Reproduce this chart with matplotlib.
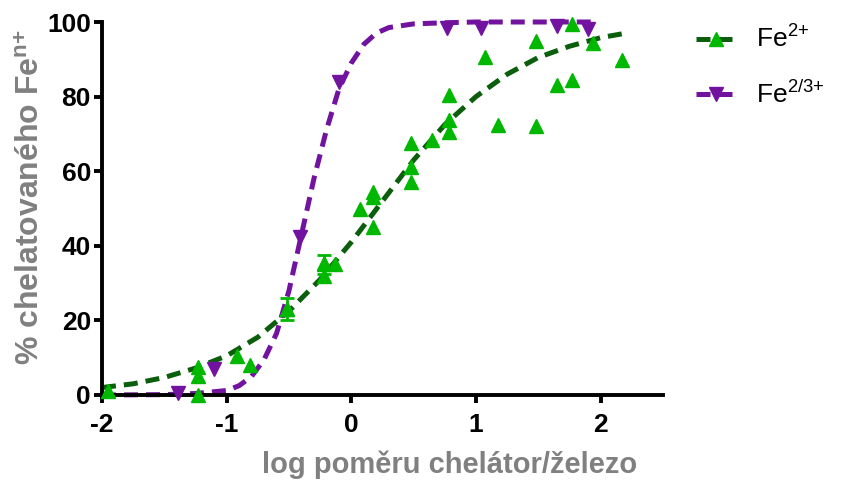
import matplotlib

matplotlib.use("Agg")
import matplotlib.pyplot as plt

plt.rcParams["font.family"] = ["Liberation Sans", "DejaVu Sans"]
plt.rcParams["mathtext.fontset"] = "custom"
plt.rcParams["mathtext.rm"] = "Liberation Sans"
plt.rcParams["mathtext.bf"] = "Liberation Sans:bold"
plt.rcParams["mathtext.default"] = "regular"
plt.rcParams["axes.unicode_minus"] = False

# Fe2+ -- measured points (log ratio, % chelated)
FE2_X = [-1.95, -1.23, -1.23, -1.23, -0.92, -0.81, -0.52, -0.22, -0.22, -0.13,
         0.07, 0.17, 0.17, 0.17, 0.48, 0.48, 0.48, 0.65, 0.78, 0.78, 0.78,
         1.07, 1.18, 1.48, 1.48, 1.65, 1.77, 1.77, 1.94, 2.17]
FE2_Y = [1.0, 7.5, 5.0, 0.0, 10.5, 8.0, 23.0, 35.5, 32.0, 35.0,
         50.0, 54.5, 53.0, 45.0, 67.5, 61.0, 57.0, 68.4, 80.4, 73.7, 70.5,
         90.6, 72.4, 95.0, 72.0, 83.0, 84.5, 99.5, 94.4, 89.8]
# mean +/- SD points with visible caps
FE2_ERR_X = [-0.52, -0.22]
FE2_ERR_Y = [23.0, 35.0]
FE2_ERR = [3.0, 2.5]
# Fe2+ fitted curve
FE2_FIT_X = [-2.0, -1.75, -1.5, -1.25, -1.0, -0.75, -0.5, -0.25, 0.0, 0.25,
             0.5, 0.75, 1.0, 1.25, 1.5, 1.75, 2.0, 2.2]
FE2_FIT_Y = [2.0, 3.0, 4.7, 7.2, 10.5, 15.5, 22.5, 31.0, 41.0, 52.0,
             63.0, 72.5, 80.0, 86.0, 90.5, 93.5, 95.8, 97.0]

# Fe2/3+ -- measured points
FE23_X = [-1.39, -1.1, -0.41, -0.1, 0.77, 1.04, 1.65, 1.9]
FE23_Y = [0.5, 7.0, 42.4, 84.0, 98.5, 98.5, 99.0, 98.0]
# Fe2/3+ fitted curve
FE23_FIT_X = [-2.0, -1.5, -1.25, -1.0, -0.9, -0.8, -0.7, -0.6, -0.5, -0.4,
              -0.3, -0.2, -0.1, 0.0, 0.1, 0.2, 0.3, 0.5, 0.75, 1.0, 1.5, 1.93]
FE23_FIT_Y = [0.0, 0.1, 0.4, 1.2, 2.5, 5.0, 9.5, 16.5, 28.0, 43.0,
              58.0, 71.0, 82.0, 89.0, 94.0, 97.0, 98.5, 99.5, 99.8, 100.0, 100.0, 100.0]

X_TICKS = [-2, -1, 0, 1, 2]
Y_TICKS = [0, 20, 40, 60, 80, 100]

GREEN_PT = "#00B800"
GREEN_LN = "#0B5E0B"
PURPLE = "#72139F"
DASH = (0, (2.8, 1.6))


def main() -> None:
    fig = plt.figure(figsize=(8.42, 4.84), dpi=100)
    ax = fig.add_axes([102 / 842, 89 / 484, 561 / 842, 373 / 484])

    ax.plot(FE2_FIT_X, FE2_FIT_Y, color=GREEN_LN, lw=3.6, ls=DASH, zorder=2,
            clip_on=False)
    ax.plot(FE23_FIT_X, FE23_FIT_Y, color=PURPLE, lw=3.6, ls=DASH, zorder=2,
            clip_on=False)
    ax.errorbar(FE2_ERR_X, FE2_ERR_Y, yerr=FE2_ERR, fmt="^", color=GREEN_PT,
                ms=10, capsize=5, capthick=2, elinewidth=2, zorder=3,
                clip_on=False)
    ax.plot(FE2_X, FE2_Y, ls="none", marker="^", ms=10, color=GREEN_PT,
            zorder=3, clip_on=False)
    ax.plot(FE23_X, FE23_Y, ls="none", marker="v", ms=10, color=PURPLE,
            zorder=3, clip_on=False)

    # legend proxies: dashed line with marker
    h1, = ax.plot([], [], color=GREEN_LN, lw=3.6, ls=DASH, marker="^", ms=10,
                  markerfacecolor=GREEN_PT, markeredgecolor=GREEN_PT)
    h2, = ax.plot([], [], color=PURPLE, lw=3.6, ls=DASH, marker="v", ms=10)
    fig.legend([h1, h2], ["Fe$^{2{+}}$", "Fe$^{2/3{+}}$"], loc="upper left",
               bbox_to_anchor=(672 / 842, 1 - 2 / 484), frameon=False,
               fontsize=19, handlelength=1.5, handletextpad=0.8,
               labelspacing=1.05)

    ax.set_xlim(-2, 2.5)
    ax.set_ylim(0, 100)
    ax.set_xticks(X_TICKS)
    ax.set_yticks(Y_TICKS)
    for side in ("top", "right"):
        ax.spines[side].set_visible(False)
    for side in ("left", "bottom"):
        ax.spines[side].set_linewidth(2.8)
    ax.tick_params(width=2.8, length=6, labelsize=19)
    ax.tick_params(axis="x", pad=7)
    ax.tick_params(axis="y", pad=2)
    for lab in ax.get_xticklabels() + ax.get_yticklabels():
        lab.set_fontweight("bold")

    ax.set_xlabel("log poměru chelátor/železo", fontsize=21, fontweight="bold",
                  color="#808080", labelpad=10, x=0.62)
    ax.set_ylabel(r"% chelatovaného Fe$^{\mathbf{n{+}}}$", fontsize=23,
                  fontweight="bold", color="#808080", labelpad=0, y=0.53)

    fig.savefig("out.png", dpi=100)
    plt.close(fig)


if __name__ == "__main__":
    main()
